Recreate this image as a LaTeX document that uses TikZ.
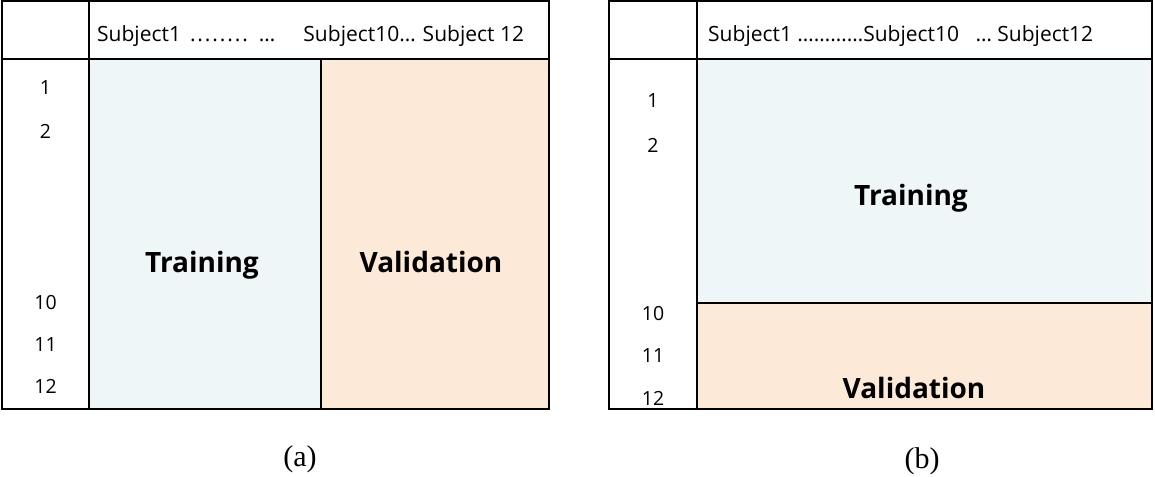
\documentclass[tikz,border=0pt]{standalone}
\usepackage{fontspec}
\setmainfont{Open Sans}
\newfontfamily\capfont{Liberation Serif}
\definecolor{trainfill}{HTML}{EEF6F8}
\definecolor{valfill}{HTML}{FDE9D7}
% a run of evenly spaced dots for the column header
\newcommand{\spaceddots}{.\kern1.9pt.\kern1.9pt.\kern1.9pt.\kern1.9pt.\kern1.9pt.\kern1.9pt.\kern1.9pt.}
\begin{document}
\begin{tikzpicture}[x=1pt,y=-1pt,
  grid/.style={draw=black,line width=1.6pt},
  frame/.style={draw=black,line width=1.2pt},
  hdr/.style={anchor=base west,font=\fontsize{21}{24}\selectfont,inner sep=0pt},
  rowlbl/.style={anchor=base,font=\fontsize{19.5}{22}\selectfont,inner sep=0pt},
  big/.style={anchor=base,font=\fontsize{28}{30}\selectfont\bfseries,inner sep=0pt},
  captext/.style={anchor=base,font=\capfont\fontsize{30}{32}\selectfont,inner sep=0pt}]
\useasboundingbox (0,0) rectangle (1155,476);

% ---- panel (a): split by subject
\fill[trainfill] (89,59) rectangle (321,409);
\fill[valfill] (321,59) rectangle (549,409);
\draw[frame] (2,1) rectangle (549,409);
\draw[grid] (2,59) -- (549,59);
\draw[grid] (89,1) -- (89,409);
\draw[grid] (321,59) -- (321,409);
\draw[grid] (89,409) -- (549,409);
\draw[grid] (549,59) -- (549,409);

\node[hdr] (ha) at (97,42) {Subject1\hspace{9pt}\spaceddots\hspace{11pt}…\hspace{28pt}Subject10…\hspace{7pt}Subject 12};
\node[rowlbl] (a1) at (45.5,95) {1};
\node[rowlbl] (a2) at (45.5,138) {2};
\node[rowlbl] (a10) at (45.5,309) {10};
\node[rowlbl] (a11) at (45.5,351) {11};
\node[rowlbl] (a12) at (45.5,393) {12};
\node[big] (atrain) at (202,272) {Training};
\node[big] (aval) at (431,272) {Validation};
\node[captext] (capa) at (300,466) {(a)};

% ---- panel (b): split by sample
\fill[trainfill] (697,59) rectangle (1152,303);
\fill[valfill] (697,303) rectangle (1152,409);
\draw[frame] (609,1) rectangle (1152,409);
\draw[grid] (609,59) -- (1152,59);
\draw[grid] (697,1) -- (697,409);
\draw[grid] (697,303) -- (1152,303);
\draw[grid] (697,409) -- (1152,409);

\node[hdr] (hb) at (708,42) {Subject1 …………Subject10\ \ \ … Subject12};
\node[rowlbl] (b1) at (653,107) {1};
\node[rowlbl] (b2) at (653,152) {2};
\node[rowlbl] (b10) at (653,320) {10};
\node[rowlbl] (b11) at (653,362) {11};
\node[rowlbl] (b12) at (653,405) {12};
\node[big] (btrain) at (911,205) {Training};
\node[big] (bval) at (914,398) {Validation};
\node[captext] (capb) at (922,468) {(b)};
\end{tikzpicture}
\end{document}
